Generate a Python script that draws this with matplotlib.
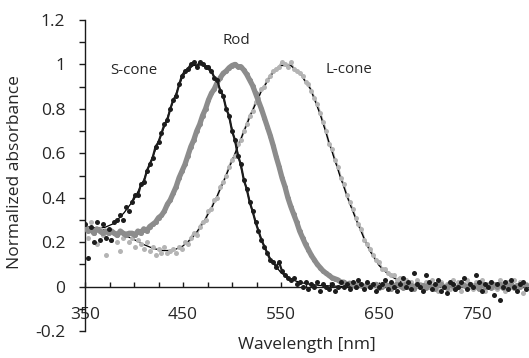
import numpy as np
import matplotlib
matplotlib.use("Agg")
import matplotlib.pyplot as plt
from matplotlib.ticker import MultipleLocator, FixedLocator, FuncFormatter

plt.rcParams['font.family'] = ['Open Sans', 'DejaVu Sans']

# ---------------- data ----------------
wl = np.arange(350, 801, 3)          # measured wavelengths (nm)
fit_wl = np.arange(350, 801, 10)     # template-fit wavelengths (nm)

s_cone = [
    0.28, 0.13, 0.27, 0.20, 0.29, 0.21, 0.28, 0.22, 0.26, 0.21,
    0.29, 0.30, 0.32, 0.30, 0.36, 0.34, 0.38, 0.41, 0.41, 0.46,
    0.47, 0.52, 0.55, 0.58, 0.63, 0.65, 0.69, 0.73, 0.75, 0.80,
    0.84, 0.86, 0.91, 0.95, 0.97, 0.98, 1.00, 1.01, 0.99, 1.01,
    1.00, 0.99, 0.99, 0.97, 0.94, 0.93, 0.88, 0.86, 0.80, 0.77,
    0.70, 0.66, 0.59, 0.55, 0.48, 0.44, 0.38, 0.34, 0.29, 0.25,
    0.21, 0.18, 0.15, 0.12, 0.11, 0.09, 0.11, 0.07, 0.05, 0.04,
    0.03, 0.04, 0.01, 0.02, 0.00, 0.02, -0.01, 0.01, 0.00, 0.02,
    -0.02, 0.01, 0.00, -0.01, 0.01, -0.02, 0.00, 0.02, 0.00, 0.01,
    -0.01, 0.02, 0.00, 0.03, 0.01, -0.01, 0.02, 0.00, 0.01, -0.02,
    0.00, 0.01, 0.03, -0.01, 0.02, 0.00, -0.02, 0.01, 0.04, 0.00,
    0.02, -0.01, 0.06, 0.01, 0.00, -0.02, 0.05, 0.02, -0.01, 0.01,
    0.03, -0.02, 0.00, -0.03, 0.02, 0.01, -0.01, 0.00, 0.02, 0.04,
    -0.01, 0.01, 0.00, 0.05, 0.02, -0.02, 0.01, 0.00, 0.02, -0.04,
    0.01, -0.06, 0.00, 0.02, -0.01, 0.03, 0.00, -0.02, 0.01, 0.02,
    -0.01,
]

rod = [
    0.27, 0.25, 0.26, 0.24, 0.26, 0.25, 0.24, 0.25, 0.24, 0.25,
    0.24, 0.23, 0.25, 0.24, 0.23, 0.24, 0.24, 0.23, 0.25, 0.24,
    0.26, 0.25, 0.27, 0.28, 0.29, 0.31, 0.32, 0.34, 0.37, 0.39,
    0.42, 0.45, 0.49, 0.52, 0.55, 0.59, 0.63, 0.66, 0.70, 0.73,
    0.77, 0.80, 0.84, 0.87, 0.89, 0.92, 0.94, 0.96, 0.97, 0.985,
    0.995, 1.00, 0.99, 0.99, 0.975, 0.955, 0.93, 0.905, 0.87, 0.835,
    0.80, 0.76, 0.72, 0.68, 0.635, 0.585, 0.54, 0.49, 0.45, 0.40,
    0.36, 0.325, 0.29, 0.25, 0.22, 0.19, 0.165, 0.14, 0.12, 0.10,
    0.085, 0.07, 0.06, 0.05, 0.04, 0.035, 0.03, 0.02, 0.02, 0.01,
    0.015, 0.01, 0.00, 0.01, 0.005, -0.005, 0.01, 0.00, 0.005, 0.01,
    -0.005, 0.00, 0.01, 0.005, -0.01, 0.00, 0.01, 0.005, -0.005, 0.01,
    0.00, 0.005, -0.01, 0.01, 0.00, 0.005, -0.005, 0.01, 0.00, -0.01,
    0.005, 0.01, 0.00, -0.005, 0.01, 0.005, -0.01, 0.00, 0.01, 0.005,
    -0.005, 0.01, 0.00, 0.005, -0.01, 0.01, 0.00, 0.005, -0.005, 0.01,
    0.00, 0.01, -0.005, 0.005, 0.00, 0.01, -0.005, 0.005, 0.00, 0.01,
    0.005,
]

l_cone = [
    0.27, 0.22, 0.29, 0.24, 0.19, 0.26, 0.23, 0.14, 0.25, 0.21,
    0.24, 0.20, 0.16, 0.22, 0.24, 0.20, 0.22, 0.18, 0.21, 0.19,
    0.17, 0.20, 0.16, 0.18, 0.14, 0.17, 0.15, 0.18, 0.15, 0.16,
    0.17, 0.15, 0.18, 0.17, 0.20, 0.19, 0.22, 0.24, 0.23, 0.27,
    0.29, 0.30, 0.34, 0.35, 0.39, 0.40, 0.45, 0.47, 0.50, 0.54,
    0.57, 0.59, 0.64, 0.66, 0.70, 0.73, 0.77, 0.79, 0.83, 0.85,
    0.89, 0.90, 0.93, 0.95, 0.97, 0.98, 0.99, 1.01, 1.00, 0.99,
    1.01, 0.98, 0.97, 0.96, 0.95, 0.92, 0.91, 0.88, 0.85, 0.82,
    0.78, 0.74, 0.70, 0.64, 0.62, 0.57, 0.54, 0.49, 0.46, 0.41,
    0.38, 0.35, 0.31, 0.28, 0.26, 0.21, 0.19, 0.17, 0.14, 0.12,
    0.11, 0.08, 0.08, 0.06, 0.05, 0.05, 0.03, 0.04, 0.02, 0.03,
    0.01, 0.02, 0.00, 0.03, 0.01, -0.01, 0.02, 0.00, 0.03, 0.01,
    -0.02, 0.02, 0.00, 0.01, -0.01, 0.03, 0.00, 0.02, -0.02, 0.01,
    0.03, 0.00, -0.01, 0.02, 0.00, 0.03, -0.02, 0.01, 0.02, 0.00,
    -0.01, 0.03, 0.01, -0.02, 0.02, 0.00, 0.03, -0.01, 0.02, -0.03,
    0.01,
]

s_fit = [
    0.270, 0.265, 0.266, 0.285, 0.333, 0.392, 0.480, 0.595, 0.710, 0.835,
    0.950, 0.995, 0.998, 0.962, 0.869, 0.710, 0.522, 0.350, 0.210, 0.118,
    0.062, 0.032, 0.018, 0.010, 0.005, 0.003, 0.001, 0, 0, 0,
    0, 0, 0, 0, 0, 0, 0, 0, 0, 0,
    0, 0, 0, 0, 0, 0,
]
rod_fit = [
    0.262, 0.256, 0.250, 0.244, 0.239, 0.238, 0.250, 0.280, 0.335, 0.420,
    0.530, 0.650, 0.772, 0.878, 0.958, 0.995, 0.985, 0.920, 0.800, 0.665,
    0.505, 0.360, 0.240, 0.145, 0.085, 0.046, 0.022, 0.010, 0.004, 0.001,
    0, 0, 0, 0, 0, 0, 0, 0, 0, 0,
    0, 0, 0, 0, 0, 0,
]
l_fit = [
    0.252, 0.258, 0.256, 0.247, 0.232, 0.212, 0.189, 0.171, 0.162, 0.163,
    0.183, 0.222, 0.282, 0.362, 0.458, 0.566, 0.675, 0.784, 0.880, 0.953,
    0.995, 0.995, 0.955, 0.890, 0.775, 0.635, 0.500, 0.375, 0.265, 0.165,
    0.095, 0.052, 0.027, 0.013, 0.006, 0.002, 0, 0, 0, 0,
    0, 0, 0, 0, 0, 0,
]

x_labels = [350, 450, 550, 650, 750]
annotations = [("S-cone", 400, 0.973), ("Rod", 504, 1.108), ("L-cone", 619, 0.977)]

# ---------------- figure ----------------
W, H = 529, 358
fig = plt.figure(figsize=(W / 100, H / 100), dpi=100)
ax = fig.add_axes([85 / W, 1 - 331 / H, (W - 85) / W, (331 - 20) / H])
ax.set_xlim(350, 803)
ax.set_ylim(-0.2, 1.2)

txt = '#262626'
c_s, c_rod, c_l = '#1c1c1c', '#8c8c8c', '#b4b4b4'

s_arr, l_arr = np.array(s_cone), np.array(l_cone)
s_band = (wl >= 398) & (wl <= 560)   # smooth part of the S-cone trace
l_band = (wl >= 455) & (wl <= 680)   # smooth part of the L-cone trace

# light-grey L-cone trace lies under its black fit, so the fit shows through
ax.plot(wl[l_band], l_arr[l_band], '-', lw=1.6, color=c_l, zorder=1.5)
# template fits (thin black lines)
for f in (l_fit, rod_fit, s_fit):
    ax.plot(fit_wl, f, color='black', lw=0.9, zorder=2)

ax.plot(wl, l_cone, 'o', ms=3.6, color=c_l, mec='none', zorder=3)
ax.plot(wl, rod, '-', lw=3.8, color=c_rod, zorder=4)
ax.plot(wl, rod, 'o', ms=3.6, color=c_rod, mec='none', zorder=4)
ax.plot(wl[s_band], s_arr[s_band], '-', lw=1.6, color=c_s, zorder=5)
ax.plot(wl, s_cone, 'o', ms=3.6, color=c_s, mec='none', zorder=5)

# spines
for s in ('top', 'right'):
    ax.spines[s].set_visible(False)
ax.spines['bottom'].set_position(('data', 0))
for s in ('bottom', 'left'):
    ax.spines[s].set_color('#1a1a1a')
    ax.spines[s].set_linewidth(1.0)

# ticks
ax.xaxis.set_major_locator(FixedLocator(x_labels))
ax.xaxis.set_minor_locator(MultipleLocator(25))
ax.tick_params(axis='x', which='both', direction='in', length=3.3, width=1.0,
               pad=15, labelsize=12.5, labelcolor=txt, color='#1a1a1a')
ax.yaxis.set_major_locator(MultipleLocator(0.2))
ax.yaxis.set_minor_locator(MultipleLocator(0.1))

def yfmt(v, p):
    if abs(v - round(v)) < 1e-9:
        return str(int(round(v)))
    return f"{v:.1f}"

ax.yaxis.set_major_formatter(FuncFormatter(yfmt))
ax.tick_params(axis='y', which='both', direction='out', length=4.3, width=1.0,
               pad=10, labelsize=12.5, labelcolor=txt, color='#1a1a1a')

for name, x, y in annotations:
    ax.text(x, y, name, ha='center', va='center', fontsize=10.8, color=txt)

fig.text(307 / W, 1 - 345 / H, 'Wavelength [nm]', ha='center', va='center',
         fontsize=12.5, color=txt)
fig.text(15 / W, 1 - 172 / H, 'Normalized absorbance', ha='center', va='center',
         rotation=90, fontsize=12.5, color=txt)

fig.savefig('out.png', dpi=100)
